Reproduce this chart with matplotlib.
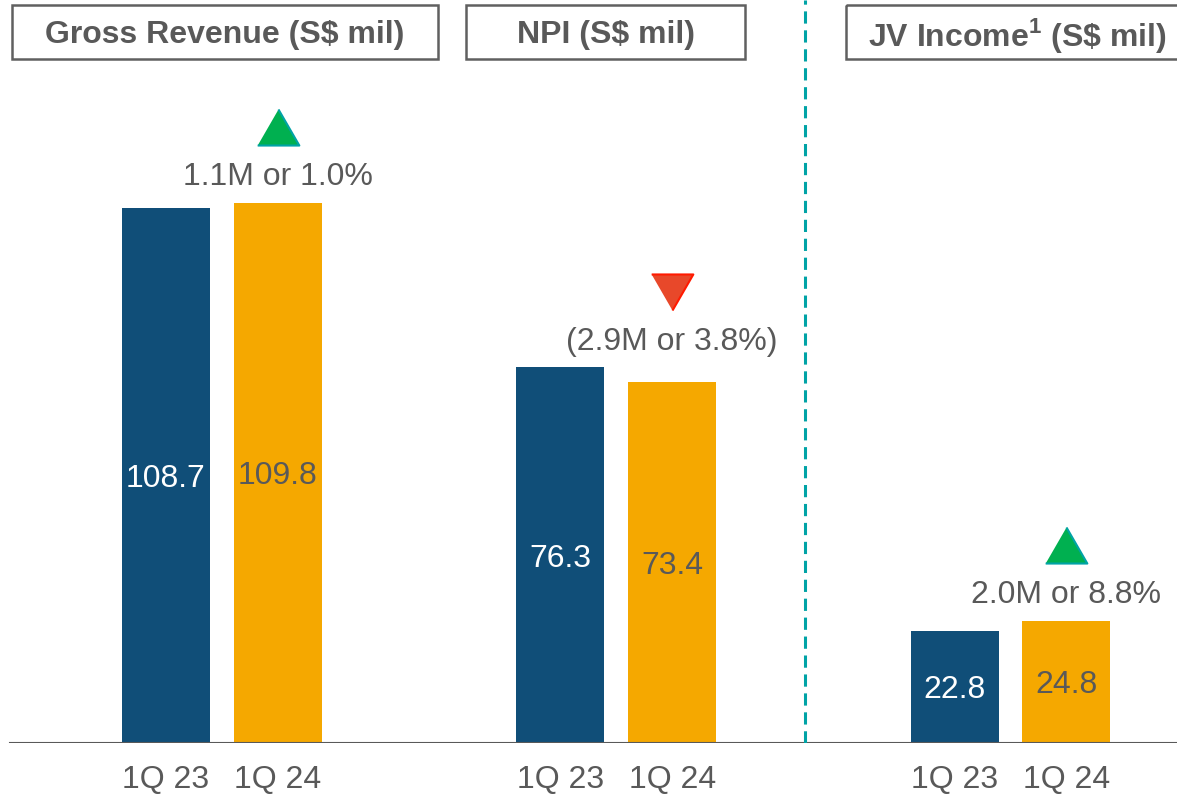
import numpy as np
import matplotlib
matplotlib.use('Agg')
import matplotlib.pyplot as plt
from matplotlib.patches import Rectangle

plt.rcParams['font.family'] = ['Liberation Sans', 'DejaVu Sans']
plt.rcParams['mathtext.fontset'] = 'custom'
plt.rcParams['mathtext.rm'] = 'Liberation Sans'
plt.rcParams['mathtext.bf'] = 'Liberation Sans:bold'

# datos
metricas = ['Gross Revenue (S$ mil)', 'NPI (S$ mil)', r'JV Income$^{\mathbf{1}}$ (S\$ mil)']
periodos = ['1Q 23', '1Q 24']
q1_23 = [108.7, 76.3, 22.8]
q1_24 = [109.8, 73.4, 24.8]
cambios = ['1.1M or 1.0%', '(2.9M or 3.8%)', '2.0M or 8.8%']
sube = [True, False, True]

GRIS = '#595959'
AZUL = '#104E78'
NARANJA = '#F5A800'

fig = plt.figure(figsize=(11.77, 7.95), dpi=100)
ax = fig.add_axes([0, 1 - 743 / 795, 1, 743 / 795])
ax.set_xlim(-0.563, 2.4223)
ax.set_ylim(0, 150.96)
for s in ax.spines.values():
    s.set_visible(False)
ax.set_yticks([])

x = np.arange(len(metricas))
w = 0.2232
off = 0.142
b1 = ax.bar(x - off, q1_23, w, color=AZUL)
b2 = ax.bar(x + off, q1_24, w, color=NARANJA)

for i in range(len(x)):
    ax.text(x[i] - off, q1_23[i] / 2, f'{q1_23[i]:.1f}', ha='center', va='center_baseline',
            color='white', fontsize=23)
    ax.text(x[i] + off, q1_24[i] / 2, f'{q1_24[i]:.1f}', ha='center', va='center_baseline',
            color=GRIS, fontsize=23)
    tope = max(q1_23[i], q1_24[i])
    ax.text(x[i] + off, tope + 5.9, cambios[i], ha='center', va='center_baseline',
            color=GRIS, fontsize=23)
    if sube[i]:
        tri = [(-1, -0.866), (1, -0.866), (0, 0.866)]
        ax.plot(x[i] + off, tope + 15.4, marker=tri, ms=30, mfc='#00B050',
                mec='#00A3A6', mew=1.5, clip_on=False)
    else:
        tri = [(-1, 0.866), (1, 0.866), (0, -0.866)]
        ax.plot(x[i] + off, tope + 15.4, marker=tri, ms=30, mfc='#E8482A',
                mec='#FF1A00', mew=1.5, clip_on=False)

ax.set_xticks(np.concatenate([x - off, x + off]))
ax.set_xticklabels(periodos[:1] * 3 + periodos[1:] * 3, fontsize=23, color=GRIS)
ax.tick_params(axis='x', length=0, pad=16)

ax.axhline(0, xmin=10 / 1177, xmax=1, color=GRIS, lw=1.5)
ax.axvline(1.479, 0, 1, color='#00A3A6', lw=2.2, ls=(0, (4, 2.2)))

# cajas de titulo
ov = fig.add_axes([0, 0, 1, 1], facecolor='none')
ov.set_xlim(0, 1177)
ov.set_ylim(795, 0)
ov.axis('off')
cajas = [(12, 438), (466, 745), (846, 1190)]
centros = [225, 606, 1017]
for (a, b), c, t in zip(cajas, centros, metricas):
    ov.add_patch(Rectangle((a, 5), b - a, 54, fill=False, ec='#606060', lw=1.8))
    ov.text(c, 31, t, ha='center', va='center_baseline', fontsize=23, fontweight='bold', color=GRIS)

plt.savefig('out.png', dpi=100)
